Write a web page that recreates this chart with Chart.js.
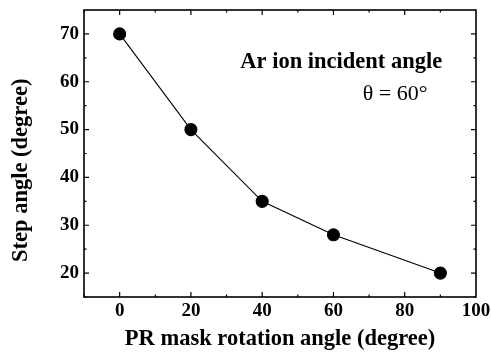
<!DOCTYPE html>
<html>
<head>
<meta charset="utf-8">
<script src="https://cdn.jsdelivr.net/npm/chart.js@4"></script>
<style>
html,body{margin:0;padding:0;background:#fff;}
#c{display:block;}
</style>
</head>
<body>
<canvas id="c" width="491" height="356"></canvas>
<script>
// ---- data ----
const rotationAngles = [0, 20, 40, 60, 90];
const stepAngles = [70, 50, 35, 28, 20];
const xTickLabels = [0, 20, 40, 60, 80, 100];
const yTickLabels = [20, 30, 40, 50, 60, 70];
const xMinorTicks = [-10, 10, 30, 50, 70, 90];
const yMinorTicks = [15, 25, 35, 45, 55, 65, 75];
const xTitle = 'PR mask rotation angle (degree)';
const yTitle = 'Step angle (degree)';
const noteLine1 = 'Ar ion incident angle';
const noteLine2 = '\u03B8 = 60\u00B0';

const SERIF = '"Liberation Serif", "Times New Roman", serif';

const framePlugin = {
  id: 'frame',
  afterDraw(chart) {
    const ctx = chart.ctx;
    const a = chart.chartArea;
    const xs = chart.scales.x, ys = chart.scales.y;
    ctx.save();
    ctx.strokeStyle = '#000';
    ctx.lineWidth = 1.6;
    ctx.strokeRect(a.left, a.top, a.right - a.left, a.bottom - a.top);
    ctx.lineWidth = 1.2;
    const tick = (vals, len, horiz) => {
      vals.forEach(v => {
        ctx.beginPath();
        if (horiz) {
          const px = xs.getPixelForValue(v);
          ctx.moveTo(px, a.bottom); ctx.lineTo(px, a.bottom - len);
          ctx.moveTo(px, a.top); ctx.lineTo(px, a.top + len);
        } else {
          const py = ys.getPixelForValue(v);
          ctx.moveTo(a.left, py); ctx.lineTo(a.left + len, py);
          ctx.moveTo(a.right, py); ctx.lineTo(a.right - len, py);
        }
        ctx.stroke();
      });
    };
    tick(xTickLabels.filter(v => v < 100), 5, true);
    tick(xMinorTicks, 2.5, true);
    tick(yTickLabels, 5, false);
    tick(yMinorTicks.filter(v => v < 75), 2.5, false);

    // y axis title
    ctx.fillStyle = '#000';
    ctx.font = 'bold 22.5px ' + SERIF;
    ctx.textAlign = 'center';
    ctx.textBaseline = 'middle';
    ctx.save();
    ctx.translate(21, ys.getPixelForValue(41.5));
    ctx.rotate(-Math.PI / 2);
    ctx.fillText(yTitle, 0, 0);
    ctx.restore();

    // annotation
    ctx.font = 'bold 22.5px ' + SERIF;
    ctx.textBaseline = 'alphabetic';
    ctx.fillText(noteLine1, xs.getPixelForValue(62.2), ys.getPixelForValue(62.8));
    ctx.font = '22px ' + SERIF;
    ctx.fillText(noteLine2, xs.getPixelForValue(77.3), ys.getPixelForValue(56.1));
    ctx.restore();
  }
};

new Chart(document.getElementById('c'), {
  type: 'line',
  data: {
    datasets: [{
      data: rotationAngles.map((x, i) => ({x: x, y: stepAngles[i]})),
      borderColor: '#000',
      borderWidth: 1.1,
      backgroundColor: '#000',
      pointBackgroundColor: '#000',
      pointBorderColor: '#000',
      pointRadius: 6,
      pointHoverRadius: 6,
      tension: 0,
      fill: false
    }]
  },
  options: {
    responsive: false,
    animation: false,
    events: [],
    layout: {padding: {top: 10, right: 15, left: 0, bottom: 0}},
    plugins: {legend: {display: false}, tooltip: {enabled: false}},
    scales: {
      x: {
        type: 'linear',
        min: -10, max: 100,
        afterBuildTicks: s => { s.ticks = xTickLabels.map(v => ({value: v})); },
        afterFit: s => { s.height = 59; s.paddingLeft = 0; s.paddingRight = 0; },
        grid: {display: false, drawTicks: false},
        border: {display: false},
        ticks: {color: '#000', font: {family: SERIF, size: 19, weight: 'bold'}, padding: 3, maxRotation: 0},
        title: {display: true, text: xTitle, color: '#000', font: {family: SERIF, size: 22.5, weight: 'bold'}, padding: {top: 0, bottom: 3}}
      },
      y: {
        type: 'linear',
        min: 15, max: 75,
        afterBuildTicks: s => { s.ticks = yTickLabels.map(v => ({value: v})); },
        afterFit: s => { s.width = 84; s.paddingTop = 0; s.paddingBottom = 0; },
        grid: {display: false, drawTicks: false},
        border: {display: false},
        ticks: {color: '#000', font: {family: SERIF, size: 19, weight: 'bold'}, padding: 5}
      }
    }
  },
  plugins: [framePlugin]
});
</script>
</body>
</html>
